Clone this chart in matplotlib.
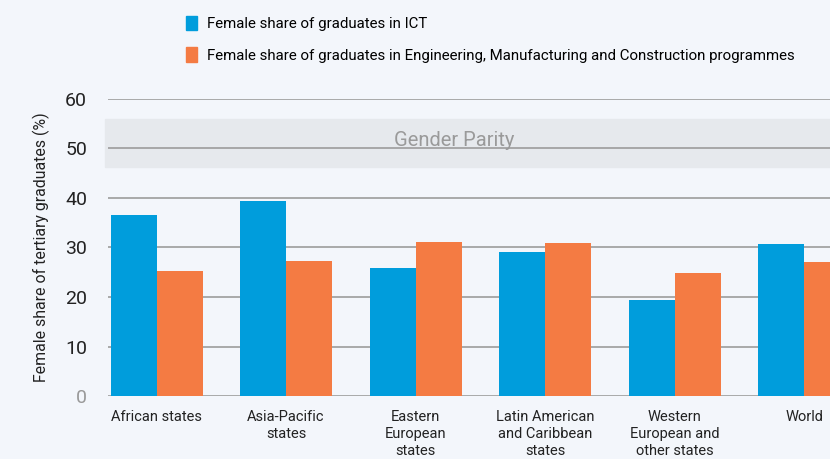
import numpy as np
import matplotlib
matplotlib.use("Agg")
import matplotlib.pyplot as plt
from matplotlib.patches import Patch

plt.rcParams['font.family'] = ['Roboto', 'DejaVu Sans']

## values
regions = ["African states", "Asia-Pacific\nstates", "Eastern\nEuropean\nstates",
           "Latin American\nand Caribbean\nstates", "Western\nEuropean and\nother states", "World"]
ict = [36.5, 39.4, 25.8, 29.1, 19.4, 30.8]
emc = [25.3, 27.3, 31.1, 30.9, 24.9, 27.1]
parity_band = [46.3, 55.9]
yticks = [0, 10, 20, 30, 40, 50, 60]

bg = "#f3f6fb"
blue = "#009ddc"
orange = "#f47b43"

fig = plt.figure(figsize=(8.3, 4.59), dpi=100, facecolor=bg)
ax = fig.add_axes([108/830, 63/459, 1 - 108/830, 297/459])
ax.set_facecolor(bg)

x = np.arange(len(regions))
w = 0.355
ax.axhspan(parity_band[0], parity_band[1], xmin=-0.004, color="#e6e9ed", zorder=0, clip_on=False)
ax.text(2.3, 50.6, "Gender Parity", ha="center", va="baseline",
        fontsize=14.5, color="#9a9a9a", zorder=3)

for y in yticks:
    ax.axhline(y, color="#9c9c9c", lw=1.2, zorder=1)

ax.bar(x - w/2, ict, w, color=blue, zorder=2)
ax.bar(x + w/2, emc, w, color=orange, zorder=2)

ax.set_xlim(-0.375, 5.2)
ax.set_ylim(0, 60)
ax.set_yticks(yticks)
ax.set_yticklabels([str(v) for v in yticks], fontsize=14)
ax.get_yticklabels()[0].set_color("#999999")
for lab in ax.get_yticklabels()[1:]:
    lab.set_color("#222222")
ax.tick_params(axis="y", length=0, pad=15)
ax.set_xticks(x)
ax.set_xticklabels(regions, fontsize=10.5, color="#222222", linespacing=1.3)
ax.tick_params(axis="x", length=0, pad=10)
for s in ax.spines.values():
    s.set_visible(False)

ax.set_ylabel("Female share of tertiary graduates (%)", fontsize=11.4, color="#222222")
ax.yaxis.set_label_coords(-0.08, 0.5)

handles = [Patch(color=blue), Patch(color=orange)]
labels = ["Female share of graduates in ICT",
          "Female share of graduates in Engineering, Manufacturing and Construction programmes"]
fig.legend(handles, labels, loc="upper left", bbox_to_anchor=(172/830, 1 - 2/459),
           frameon=False, fontsize=10.8, handlelength=0.75, handleheight=1.1,
           handletextpad=0.7, labelspacing=1.1)

fig.savefig("out.png", dpi=100, facecolor=bg)
